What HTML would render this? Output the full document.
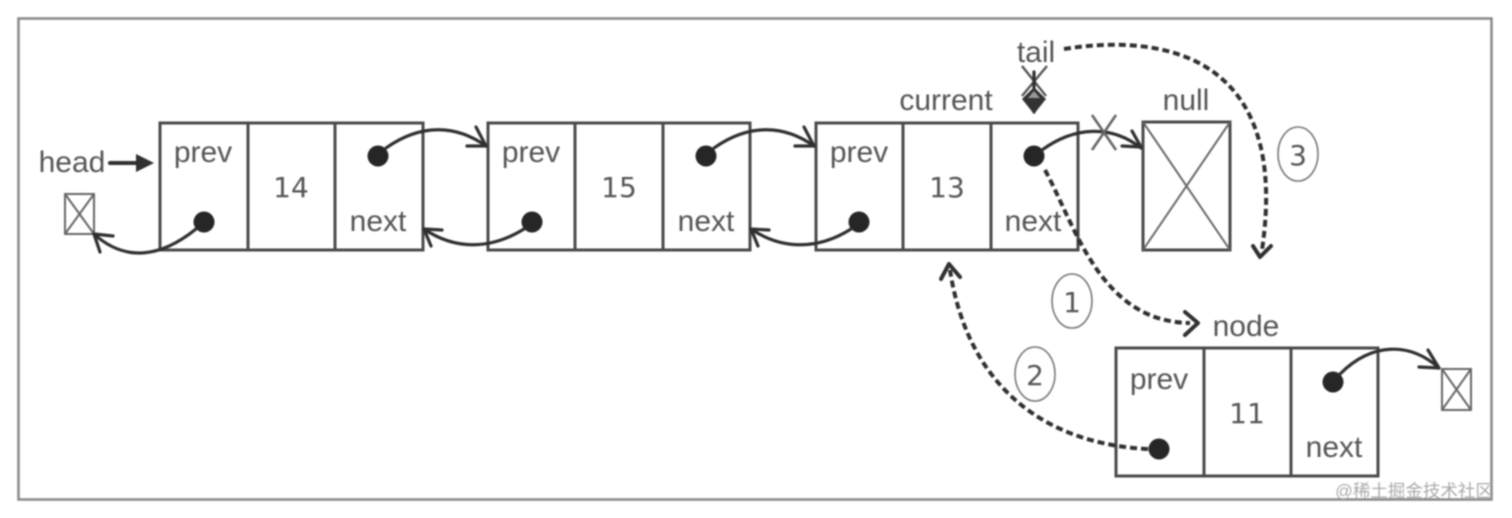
<!DOCTYPE html>
<html>
<head>
<meta charset="utf-8">
<style>
html,body{margin:0;padding:0;background:#fff;width:1512px;height:518px;overflow:hidden}
svg{display:block;filter:blur(0.7px)}
text{font-family:"Liberation Sans","Noto Sans CJK SC",sans-serif;fill:#555;text-anchor:middle}
.t{font-size:30px}
.n{font-family:"DejaVu Sans",sans-serif;font-size:28px}
.b{fill:none;stroke:#4a4a4a;stroke-width:3}
.l{fill:none;stroke:#303030;stroke-width:3.2;stroke-linecap:round;stroke-linejoin:round}
.h{fill:none;stroke:#303030;stroke-width:4;stroke-linecap:round;stroke-linejoin:round}
.d{fill:none;stroke:#303030;stroke-width:4;stroke-dasharray:7 4}
.x{fill:none;stroke:#666;stroke-width:2}
.c{fill:none;stroke:#777;stroke-width:1.6}
</style>
</head>
<body>
<svg width="1512" height="518" viewBox="0 0 1512 518" xmlns="http://www.w3.org/2000/svg">
<rect x="18.5" y="18.5" width="1473" height="481" fill="#fff" stroke="#888" stroke-width="2.5"/>

<!-- node 14 -->
<g class="b"><rect x="160" y="123" width="263" height="127"/><path d="M248 123V250M335 123V250"/></g>
<!-- node 15 -->
<g class="b"><rect x="488" y="123" width="262" height="127"/><path d="M575 123V250M663 123V250"/></g>
<!-- node 13 -->
<g class="b"><rect x="816" y="123" width="262" height="127"/><path d="M903 123V250M991 123V250"/></g>
<!-- node 11 -->
<g class="b"><rect x="1116" y="348" width="262" height="128"/><path d="M1204 348V476M1291 348V476"/></g>

<!-- null -->
<rect x="1143" y="122" width="87" height="128" class="b"/>
<path d="M1143 122L1230 250M1230 122L1143 250" class="x"/>
<!-- small null boxes -->
<rect x="65" y="194" width="29" height="40" class="x"/>
<path d="M65 194L94 234M94 194L65 234" class="x"/>
<rect x="1442" y="369" width="29" height="41" class="x"/>
<path d="M1442 369L1471 410M1471 369L1442 410" class="x"/>

<!-- labels -->
<text class="t" x="203" y="162">prev</text>
<text class="t" x="531" y="162">prev</text>
<text class="t" x="859" y="162">prev</text>
<text class="t" x="1159" y="389">prev</text>
<text class="t" x="378" y="231">next</text>
<text class="t" x="706" y="231">next</text>
<text class="t" x="1033" y="231">next</text>
<text class="t" x="1334" y="457">next</text>
<text class="n" x="291" y="197">14</text>
<text class="n" x="619" y="197">15</text>
<text class="n" x="947" y="197">13</text>
<text class="n" x="1247" y="423">11</text>
<text class="t" x="72" y="172">head</text>
<text class="t" x="946" y="110">current</text>
<text class="t" x="1186" y="110">null</text>
<text class="t" x="1036" y="62">tail</text>
<text class="t" x="1246" y="336">node</text>

<!-- dots -->
<g fill="#262626">
<circle cx="378" cy="156" r="10.5"/>
<circle cx="706" cy="156" r="10.5"/>
<circle cx="1034" cy="156" r="10.5"/>
<circle cx="1333" cy="382" r="10.5"/>
<circle cx="204" cy="222" r="10.5"/>
<circle cx="532" cy="222" r="10.5"/>
<circle cx="859" cy="222" r="10.5"/>
<circle cx="1159" cy="449" r="10.5"/>
</g>

<!-- head arrow -->
<path d="M110 163H140" class="h"/>
<path d="M136 154L154 163L136 172Z" fill="#303030"/>

<!-- solid curves -->
<path d="M386 148C420 124 455 124 486 146" class="l"/>
<path d="M476 127L486 146L467 146" class="l"/>
<path d="M714 148C748 124 783 124 814 146" class="l"/>
<path d="M804 127L814 146L795 146" class="l"/>
<path d="M1042 150C1075 126 1112 125 1141 148" class="l"/>
<path d="M1132 131L1141 147L1122 146" class="l"/>
<path d="M1340 374C1372 342 1410 342 1439 368" class="l"/>
<path d="M1428 350L1439 368L1419 367" class="l"/>
<path d="M196 229C160 258 125 262 94 234" class="l"/>
<path d="M113 236L94 234L100 252" class="l"/>
<path d="M524 229C490 250 455 250 424 229" class="l"/>
<path d="M442 230L424 229L431 246" class="l"/>
<path d="M851 229C818 250 782 250 751 229" class="l"/>
<path d="M769 230L751 229L758 246" class="l"/>

<!-- X marks -->
<path d="M1092 115L1116 150M1116 115L1092 150" fill="none" stroke="#666" stroke-width="2.6"/>
<path d="M1022 66L1046 96M1047 66L1022 96" fill="none" stroke="#555" stroke-width="2.4"/>
<!-- tail arrow -->
<path d="M1034 72V112" class="l"/>
<path d="M1022 99L1034 87L1046 99L1034 114Z" fill="#333"/>
<path d="M1028 98L1034 91L1040 98Z" fill="#999"/>

<!-- dashed curves -->
<path d="M1045 170C1075 225 1100 322 1190 323" class="d"/>
<path d="M1185 312L1198 323L1185 335" class="h"/>
<path d="M1148 449C1060 445 970 400 950 270" class="d"/>
<path d="M941 279L949 264L960 277" class="h"/>
<path d="M1064 49C1170 32 1290 60 1262 250" class="d"/>
<path d="M1253 246L1260 257L1271 246" class="h"/>

<!-- numbered circles -->
<ellipse cx="1072" cy="301" rx="20" ry="27" class="c"/>
<text class="n" x="1072" y="312">1</text>
<ellipse cx="1035" cy="374" rx="20" ry="27" class="c"/>
<text class="n" x="1035" y="385">2</text>
<ellipse cx="1298" cy="154" rx="20" ry="27" class="c"/>
<text class="n" x="1298" y="165">3</text>

<!-- watermark -->
<text x="1414" y="497" style="font-size:17.5px;fill:#aaa">@稀土掘金技术社区</text>
</svg>
</body>
</html>
